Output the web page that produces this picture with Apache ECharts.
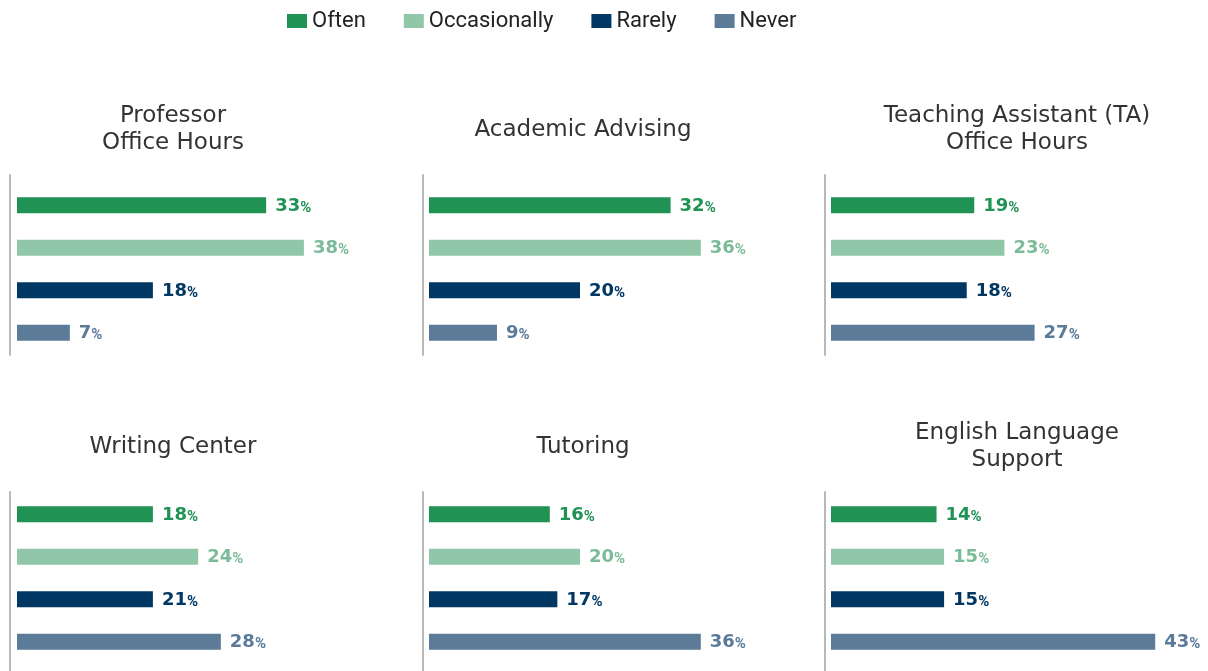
<!DOCTYPE html>
<html><head><meta charset="utf-8">
<script src="https://cdn.jsdelivr.net/npm/echarts@6/dist/echarts.min.js"></script>
<style>html,body{margin:0;padding:0;background:#fff}#c{width:1208px;height:671px}</style>
</head><body><div id="c"></div>
<script>
const services = ['Professor\nOffice Hours', 'Academic Advising', 'Teaching Assistant (TA)\nOffice Hours', 'Writing Center', 'Tutoring', 'English Language\nSupport'];
const frequencies = ['Often', 'Occasionally', 'Rarely', 'Never'];
// bar lengths as drawn in the reference (percent)
const often = [33, 32, 19, 18, 16, 14];
const occasionally = [38, 36, 23, 24, 20, 15];
const rarely = [18, 20, 18, 18, 17, 15];
const never = [7, 9, 27, 27, 36, 43];
// printed labels (percent)
const oftenLabels = [33, 32, 19, 18, 16, 14];
const occasionallyLabels = [38, 36, 23, 24, 20, 15];
const rarelyLabels = [18, 20, 18, 21, 17, 15];
const neverLabels = [7, 9, 27, 28, 36, 43];
const seriesValues = [often, occasionally, rarely, never];
const seriesLabels = [oftenLabels, occasionallyLabels, rarelyLabels, neverLabels];

const barColors = ['#1f9254', '#8fc7a8', '#003763', '#5b7b99'];
const labelColors = ['#1f9254', '#7cbb97', '#003763', '#5b7b99'];
const TFONT = 'DejaVu Sans';
const LFONT = 'Roboto';

const colBarLeft = [17, 429, 831];
const colAxisX = [10, 423, 825];
const titleCX = [173, 583, 1017];
const rowBarTop = [184, 493];
const rowDecoTop = [175, 492];
const rowDecoH = [180, 200];
const titleCY = [130, 447];

const grids = [], xAxes = [], yAxes = [], series = [], titles = [];
services.forEach((svc, i) => {
  const col = i % 3, row = Math.floor(i / 3);
  grids.push({left: colBarLeft[col], top: rowBarTop[row], width: 377.5, height: 170});
  xAxes.push({type: 'value', gridIndex: 2 * i, min: 0, max: 50, show: false});
  yAxes.push({type: 'category', gridIndex: 2 * i, inverse: true, data: frequencies, show: false});
  grids.push({left: colAxisX[col], top: rowDecoTop[row], width: 5, height: rowDecoH[row]});
  xAxes.push({type: 'value', gridIndex: 2 * i + 1, show: false});
  yAxes.push({type: 'category', gridIndex: 2 * i + 1, data: [''], axisLine: {show: true, lineStyle: {color: '#b8b8b8', width: 2}}, axisTick: {show: false}, axisLabel: {show: false}});
  titles.push({text: svc, left: titleCX[col], top: titleCY[row], textAlign: 'center', textVerticalAlign: 'middle', padding: 0,
    textStyle: {fontFamily: TFONT, fontSize: 23, fontWeight: 'normal', color: '#333', lineHeight: 27}});
  frequencies.forEach((f, k) => {
    const data = frequencies.map((_, j) => j === k ? seriesValues[k][i] : '-');
    const lbl = seriesLabels[k][i];
    series.push({
      name: f, type: 'bar', xAxisIndex: 2 * i, yAxisIndex: 2 * i, stack: 'p' + i, barWidth: 16,
      itemStyle: {color: barColors[k]}, data: data,
      label: {show: true, position: 'right', distance: 9, offset: [0, 1], formatter: () => '{n|' + lbl + '}{p|%}',
        rich: {n: {fontFamily: TFONT, fontSize: 18, fontWeight: 'bold', color: labelColors[k]},
               p: {fontFamily: LFONT, fontSize: 15, fontWeight: 'bold', color: labelColors[k], padding: [3, 0, 0, 0]}}}
    });
  });
});

const chart = echarts.init(document.getElementById('c'));
chart.setOption({
  animation: false,
  title: titles,
  legend: {data: frequencies, top: 5, left: 282, itemWidth: 20, itemHeight: 14, itemGap: 38, icon: 'rect',
    textStyle: {fontFamily: LFONT, fontSize: 22, color: '#222'}},
  grid: grids, xAxis: xAxes, yAxis: yAxes, series: series
});
</script></body></html>
